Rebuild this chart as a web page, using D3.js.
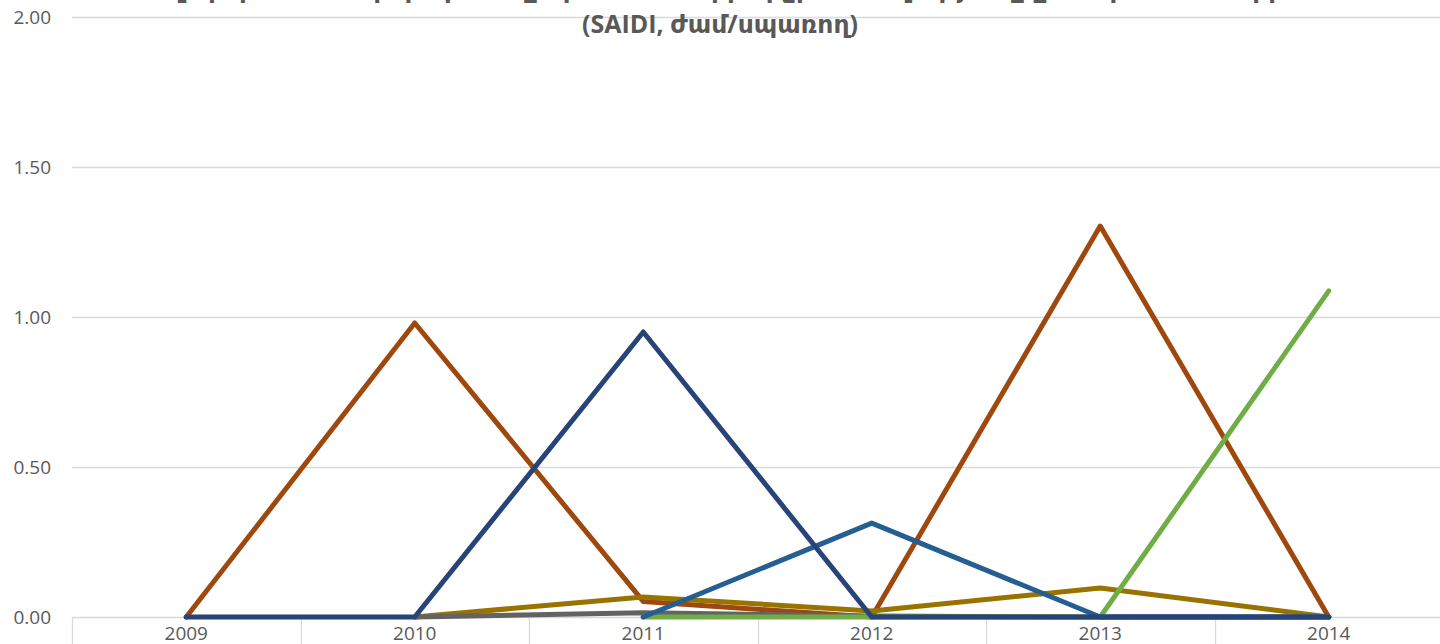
<!DOCTYPE html>
<html>
<head>
<meta charset="utf-8">
<script src="https://cdn.jsdelivr.net/npm/d3@7"></script>
<style>
  html, body { margin: 0; padding: 0; background: #fff; overflow: hidden; }
  svg { display: block; font-family: "Open Sans", "DejaVu Sans", sans-serif; }
</style>
</head>
<body>
<div id="chart"></div>
<script>
// Data
const years = ["2009", "2010", "2011", "2012", "2013", "2014"];
const yTicks = [0, 0.5, 1, 1.5, 2];

// series values per year (null = no point)
const brownValues    = [0, 0.98, 0.052, 0, 1.303, 0];
const goldValues     = [null, 0, 0.067, 0.02, 0.097, 0];
const grayValues     = [null, 0, 0.014, 0.003, 0, 0];
const greenValues    = [null, null, 0, 0, 0, 1.087];
const blueValues     = [null, null, 0, 0.313, 0, 0];
const darkBlueValues = [0, 0, 0.95, 0, 0, 0];

const titleLine1 = "Էլեկտրամատակարարման ընդհատումների միջին տևողությունը ըստ պատճառների";
const titleLine2 = "(SAIDI, ժամ/սպառող)";

// draw order = stacking order in the picture
const series = [
  { name: "brown", values: brownValues, color: "#9e480e" },
  { name: "gold", values: goldValues, color: "#997300" },
  { name: "gray", values: grayValues, color: "#636363" },
  { name: "green", values: greenValues, color: "#70ad47" },
  { name: "blue", values: blueValues, color: "#255e91" },
  { name: "darkblue", values: darkBlueValues, color: "#264478" }
];

const width = 1440;
const height = 644;
const margin = { top: 17, left: 72, bottom: 27 };
const bandWidth = 228.5;

const svg = d3.select("#chart").append("svg")
    .attr("width", width)
    .attr("height", height);

const x = d3.scaleBand()
    .domain(years)
    .range([margin.left, margin.left + bandWidth * years.length]);

const y = d3.scaleLinear()
    .domain([0, 2])
    .range([height - margin.bottom, margin.top]);

// Gridlines
svg.append("g")
  .selectAll("line")
  .data(yTicks)
  .join("line")
    .attr("x1", margin.left)
    .attr("x2", width)
    .attr("y1", d => y(d) + 0.5)
    .attr("y2", d => y(d) + 0.5)
    .attr("stroke", "#d9d9d9")
    .attr("stroke-width", 1.3);

// Y tick labels
svg.append("g")
    .attr("text-anchor", "end")
    .attr("fill", "#595959")
    .style("font-size", "19px")
  .selectAll("text")
  .data(yTicks)
  .join("text")
    .attr("x", 51)
    .attr("y", d => y(d))
    .attr("dy", "0.36em")
    .text(d => d3.format(".2f")(d));

// X axis tick marks at category boundaries
svg.append("g")
  .selectAll("line")
  .data(years)
  .join("line")
    .attr("x1", d => Math.round(x(d)) + 0.5)
    .attr("x2", d => Math.round(x(d)) + 0.5)
    .attr("y1", y(0))
    .attr("y2", height)
    .attr("stroke", "#d9d9d9")
    .attr("stroke-width", 1.3);

// X tick labels
svg.append("g")
    .attr("text-anchor", "middle")
    .attr("fill", "#595959")
    .style("font-size", "19px")
  .selectAll("text")
  .data(years)
  .join("text")
    .attr("x", d => x(d) + x.bandwidth() / 2)
    .attr("y", 640)
    .text(d => d);

// Lines
const line = d3.line()
    .defined(d => d.v !== null)
    .x(d => x(d.year) + x.bandwidth() / 2)
    .y(d => y(d.v));

svg.append("g")
    .attr("fill", "none")
    .attr("stroke-width", 5)
    .attr("stroke-linecap", "round")
    .attr("stroke-linejoin", "round")
  .selectAll("path")
  .data(series)
  .join("path")
    .attr("stroke", d => d.color)
    .attr("d", d => line(d.values.map((v, i) => ({ year: years[i], v: v }))));

// Title (first line is cut off at the top edge)
const title = svg.append("g")
    .attr("text-anchor", "middle")
    .attr("fill", "#595959")
    .style("font-weight", "bold")
    .style("font-size", "25px");

title.append("text")
    .attr("x", 722)
    .attr("y", -2)
    .text(titleLine1);

title.append("text")
    .attr("x", 720)
    .attr("y", 33)
    .text(titleLine2);
</script>
</body>
</html>
